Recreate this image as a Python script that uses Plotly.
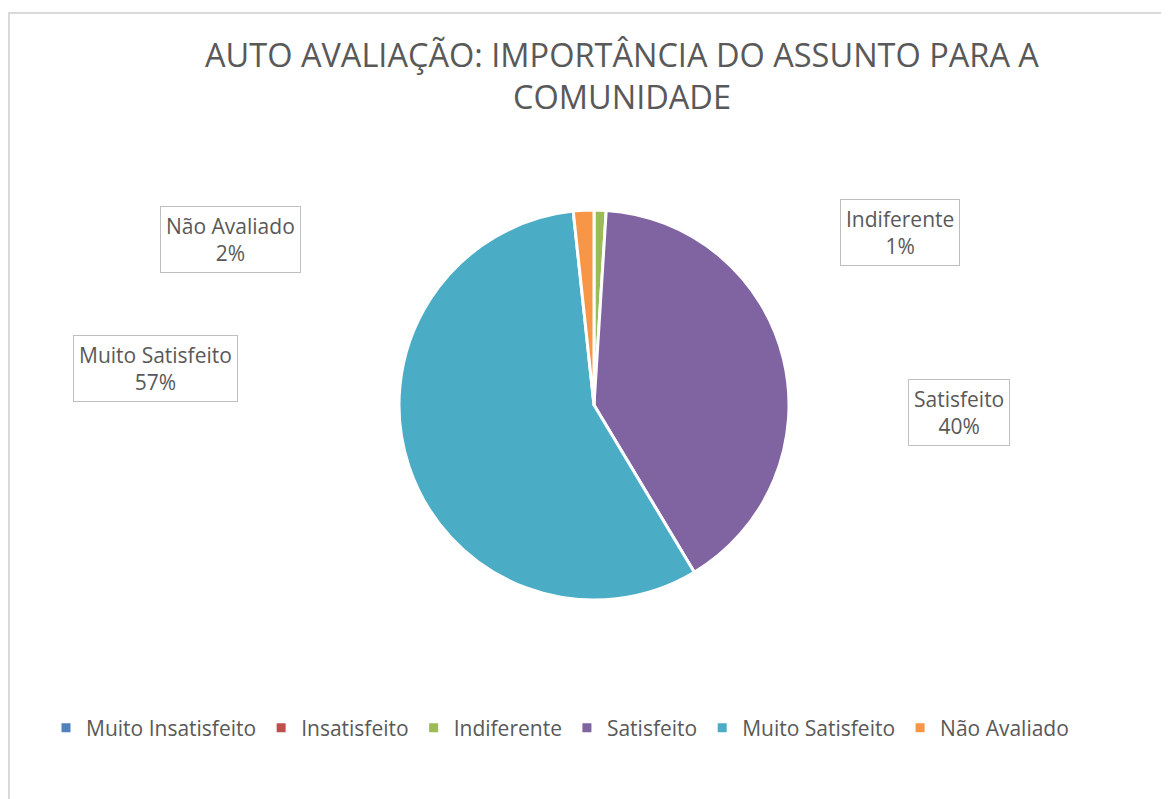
import plotly.graph_objects as go

# Data
categories = ['Muito Insatisfeito', 'Insatisfeito', 'Indiferente', 'Satisfeito',
              'Muito Satisfeito', 'Não Avaliado']
values = [0, 0, 1.0, 40.4, 56.9, 1.7]
colors = ['#4F81BD', '#C0504D', '#9BBB59', '#8064A2', '#4BACC6', '#F79646']

W, H = 1169, 799
OFF = 8  # page body margin
TXT = '#595959'
FONT = 'Open Sans'


def px(x):
    return (x - OFF) / W


def py(y):
    return 1 - (y - OFF) / H


fig = go.Figure(go.Pie(
    labels=categories,
    values=values,
    sort=False,
    direction='clockwise',
    rotation=0,
    marker=dict(colors=colors, line=dict(color='white', width=3)),
    textinfo='none',
    hoverinfo='label+percent',
    domain=dict(x=[px(399), px(789)], y=[py(600), py(210)]),
))

# data label boxes (text built from the data)
total = sum(values)
label_pos = {
    'Indiferente': (900, 232),
    'Satisfeito': (959, 412),
    'Muito Satisfeito': (155, 368),
    'Não Avaliado': (230, 240),
}
for cat, v in zip(categories, values):
    if cat not in label_pos:
        continue
    lx, ly = label_pos[cat]
    fig.add_annotation(
        x=px(lx), y=py(ly), xref='paper', yref='paper',
        xanchor='center', yanchor='middle',
        text=f"{cat}<br>{round(v / total * 100)}%",
        showarrow=False, align='center',
        font=dict(family=FONT, size=21, color=TXT),
        bordercolor='#bfbfbf', borderwidth=1, borderpad=5, bgcolor='white',
    )

# chart area border
fig.add_shape(type='rect', xref='paper', yref='paper',
              x0=px(9), x1=1.02, y0=-0.02, y1=py(13),
              line=dict(color='#d9d9d9', width=2), fillcolor='rgba(0,0,0,0)')

fig.update_layout(
    width=W, height=H,
    title=dict(
        text='AUTO AVALIAÇÃO: IMPORTÂNCIA DO ASSUNTO PARA A<br>COMUNIDADE',
        x=px(622), y=py(67), xanchor='center', yanchor='middle',
        font=dict(family=FONT, size=32.5, color=TXT),
    ),
    legend=dict(
        orientation='h', x=px(560), y=py(728),
        xanchor='center', yanchor='middle',
        font=dict(family=FONT, size=21, color=TXT),
    ),
    margin=dict(l=0, r=0, t=0, b=0),
    paper_bgcolor='white',
)

fig.write_html("out.html")
